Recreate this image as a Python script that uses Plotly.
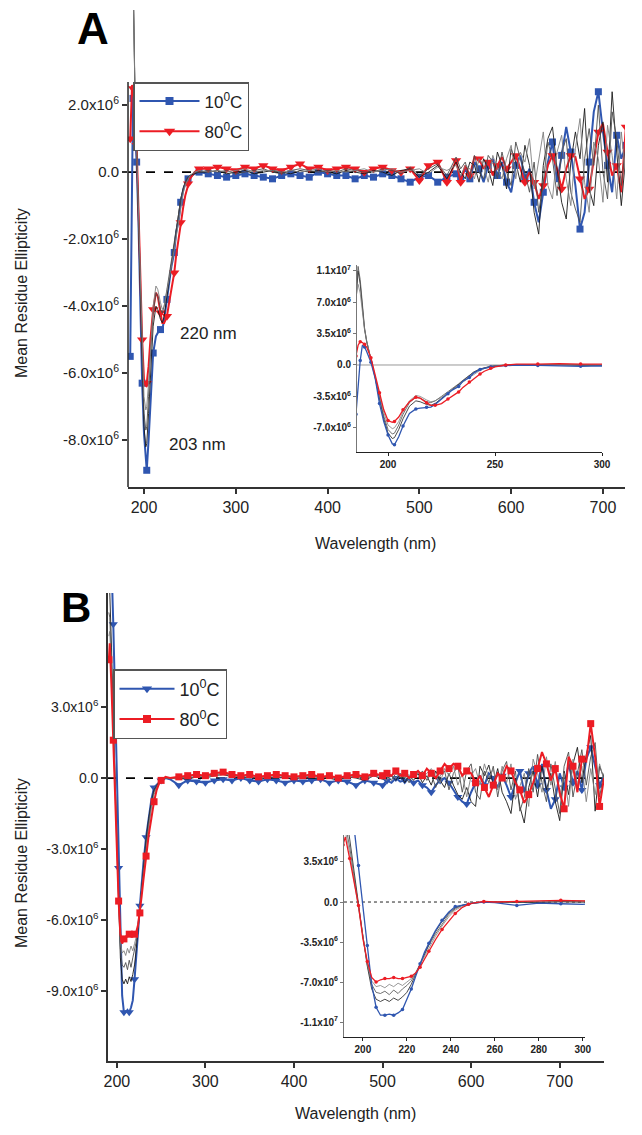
import plotly.graph_objects as go

FONT = "Arial, Liberation Sans, sans-serif"
BLUE = "#2f56b0"
RED = "#ec1c24"
MIDC = ["#1a1a1a", "#4d4d4d", "#808080"]

# ---------------- Panel A data (values in units of 10^6) ----------------
wl_a = [185, 186, 187, 188, 189, 190, 192, 194, 196, 198, 200, 202, 203, 205, 207, 210, 213, 215,
        218, 220, 222, 225, 228, 230, 233, 235, 238, 240, 243, 245, 248, 250, 255, 260] \
    + list(range(270, 541, 10)) + list(range(545, 726, 5))

a_10C = [-5.5, -2.8, 0.5, 2.2, 2.0, 1.5, 0.3, -1.5, -4.3, -6.3, -7.8, -8.8, -8.9, -8.0, -6.8, -5.4, -4.9, -4.8,
         -4.7, -4.7, -4.4, -3.8, -3.2, -2.8, -2.4, -1.8, -1.4, -0.9, -0.5, -0.35, -0.2, -0.15, -0.05, 0.0] \
    + [-0.05, -0.1, -0.15, -0.1, -0.05, -0.1, -0.15, -0.2, -0.1, -0.05, -0.1, -0.15, 0.0, -0.05, -0.1, -0.1,
       -0.2, -0.1, -0.15, -0.05, -0.1, -0.2, -0.3, -0.15, -0.1, -0.3, -0.15, -0.05] \
    + [-0.2, 0.1, -0.2, 0.3, 0.1, -0.3, 0.2, 0.4, -0.1, 0.3, -0.3, -0.6, 0.2, 0.5, -0.2, 0.1, -0.9, -1.5, -0.6,
       0.3, 0.9, -0.3, 0.5, 1.35, 0.6, -0.4, -1.7, -1.2, 0.3, 1.8, 2.4, 1.2, 0.2, -0.6, 1.1, 0.4, 0.8]

a_80C = [1.0, 2.2, 2.6, 2.5, 2.3, 2.0, 0.8, -1.2, -3.1, -5.0, -6.2, -6.4, -6.3, -5.8, -5.0, -4.1, -3.6, -3.7,
         -4.2, -4.5, -4.5, -4.3, -3.8, -3.5, -3.0, -2.5, -1.9, -1.5, -1.0, -0.7, -0.35, -0.2, 0.0, 0.1] \
    + [0.1, 0.15, 0.1, 0.05, 0.15, 0.1, 0.2, 0.1, 0.05, 0.15, 0.25, 0.1, 0.15, 0.05, 0.1, 0.15, 0.1, 0.0,
       0.1, 0.15, 0.05, 0.0, 0.1, -0.25, 0.2, 0.3, -0.3, 0.35] \
    + [-0.3, 0.2, -0.1, 0.45, 0.4, 0.1, 0.3, -0.1, 0.2, 0.45, 0.1, 0.3, 0.5, 0.1, -0.3, 0.0, -0.3, -0.8, -0.4,
       0.2, 0.5, 0.1, -0.5, 0.1, 0.5, 0.45, -0.2, -0.8, -0.5, 0.3, 1.2, 1.45, 0.6, -0.1, 0.2, -0.6, 1.35]

a_mid1 = [7.0, 10.5, 9.0, 6.0, 4.0, 2.6, 0.6, -1.4, -3.8, -6.0, -7.6, -8.2, -8.1, -7.2, -6.0, -4.6, -4.0, -4.1,
          -4.4, -4.5, -4.3, -3.7, -3.1, -2.7, -2.2, -1.8, -1.2, -0.8, -0.45, -0.3, -0.15, -0.1, -0.05, 0.0] \
    + [0.0, 0.05, -0.05, 0.0, 0.05, -0.05, 0.0, 0.05, 0.0, -0.05, 0.05, 0.0, 0.05, 0.0, -0.05, 0.05, 0.0,
       -0.05, 0.05, 0.0, -0.1, 0.05, 0.1, -0.15, 0.0, 0.2, -0.2, 0.3] \
    + [0.0, -0.2, 0.3, 0.2, -0.3, 0.4, 0.1, -0.4, 0.6, 0.2, -0.5, 0.7, 0.3, -0.3, 0.8, 0.2, -1.2, -1.85, 0.2,
       1.0, 1.35, 0.1, -0.9, -1.4, 0.3, 1.2, 0.4, 1.9, -0.5, -1.0, 0.8, 1.5, -0.3, 2.4, 0.6, -1.0, 0.5]

a_mid2 = [8.0, 11.0, 9.5, 6.5, 4.2, 2.7, 0.7, -1.3, -3.6, -5.7, -7.2, -7.7, -7.6, -6.7, -5.5, -4.2, -3.6, -3.7,
          -4.1, -4.2, -4.0, -3.5, -3.0, -2.6, -2.1, -1.7, -1.2, -0.8, -0.45, -0.3, -0.15, -0.1, 0.0, 0.0] \
    + [0.05, 0.0, 0.05, -0.05, 0.0, 0.05, 0.1, 0.0, -0.05, 0.05, 0.1, 0.05, 0.0, 0.05, 0.0, 0.1, 0.05, 0.0,
       0.0, 0.1, 0.05, -0.05, 0.15, -0.1, 0.1, 0.25, -0.1, 0.45] \
    + [0.1, 0.3, -0.2, 0.5, 0.0, -0.2, 0.5, 0.3, -0.2, 0.6, 0.0, -0.4, 0.9, 0.4, 0.0, -0.6, 0.3, -1.2, -0.3,
       0.9, 0.4, -0.7, 0.6, 1.0, -0.6, -1.1, -1.5, 0.4, 1.3, 0.2, 2.0, 0.0, -0.8, 1.8, 1.0, -0.4, 0.9]

a_mid3 = [7.5, 9.0, 8.0, 5.8, 4.0, 2.7, 0.7, -1.3, -3.4, -5.3, -6.7, -7.1, -7.0, -6.3, -5.2, -4.0, -3.4, -3.5,
          -3.9, -4.1, -4.0, -3.6, -3.1, -2.8, -2.3, -1.9, -1.4, -1.0, -0.6, -0.4, -0.2, -0.1, 0.0, 0.05] \
    + [0.0, 0.05, 0.0, 0.05, 0.1, 0.0, 0.05, 0.05, 0.0, 0.05, 0.0, 0.05, 0.1, 0.0, 0.05, 0.0, 0.05, 0.1,
       0.0, 0.05, 0.1, 0.0, 0.05, 0.1, -0.05, 0.15, 0.05, 0.2] \
    + [-0.1, 0.2, 0.1, -0.2, 0.4, 0.2, -0.3, 0.5, 0.1, -0.2, 0.4, 0.8, -0.2, 0.6, 0.3, 1.0, -0.5, 0.4, 1.2,
       -0.4, -0.8, 0.6, 1.1, -0.2, -1.0, 0.7, 1.6, -0.3, -1.2, 0.9, 0.4, -0.9, 1.4, 0.5, -0.8, 1.2, -0.2]

# ---------------- Panel B data (values in units of 10^6) ----------------
wl_b = [191, 192, 194, 196, 198, 200, 202, 204, 206, 208, 210, 212, 214, 216, 218, 220, 222, 224,
        226, 228, 230, 233, 236, 239, 242, 245, 248, 250, 255, 260] \
    + list(range(270, 501, 10)) + list(range(505, 751, 5))

b_10C = [11.0, 10.5, 9.0, 6.5, 3.2, 0.0, -3.8, -7.2, -9.2, -9.9, -9.9, -9.8, -9.9, -9.7, -9.4, -8.5, -7.6, -6.5,
         -5.4, -4.4, -3.6, -2.5, -1.6, -0.9, -0.4, -0.3, -0.2, -0.1, 0.0, -0.05] \
    + [-0.3, -0.1, -0.15, -0.2, -0.1, -0.05, -0.1, 0.0, -0.1, -0.15, -0.05, -0.1, -0.2, -0.1, -0.15, -0.1,
       -0.05, -0.2, -0.1, -0.15, -0.3, -0.1, -0.2, -0.3] \
    + [-0.1, -0.2, 0.0, -0.15, -0.1, -0.05, -0.2, -0.1, -0.3, -0.4, -0.6, -0.3, -0.1, 0.0, -0.2, -0.5, -0.8,
       -1.0, -1.1, -0.6, -0.2, 0.1, -0.3, 0.2, 0.0, -0.4, 0.1, -0.3, -0.8, -0.2, 0.3, -0.6, 0.2, 0.5, -0.3,
       0.6, -0.5, -1.3, -0.9, 0.2, -0.4, 0.6, -0.2, 0.3, -0.5, 0.8, 1.3, 0.5, -0.3, 0.1]

b_80C = [5.0, 5.7, 3.8, 1.6, -0.3, -3.2, -5.2, -6.6, -7.0, -6.8, -6.7, -6.7, -6.6, -6.7, -6.7, -6.6, -6.5, -6.2,
         -5.7, -5.0, -4.3, -3.3, -2.4, -1.7, -1.0, -0.5, -0.2, -0.1, 0.05, 0.0] \
    + [0.05, 0.1, 0.15, 0.1, 0.2, 0.25, 0.15, 0.1, 0.15, 0.05, 0.1, 0.15, 0.1, 0.05, 0.1, 0.15, 0.05, 0.1,
       0.0, 0.1, 0.15, 0.05, 0.2, 0.1] \
    + [0.2, 0.1, 0.3, 0.1, 0.2, 0.0, 0.15, 0.3, 0.1, 0.4, 0.2, 0.0, 0.3, 0.6, 0.4, 0.6, 0.5, 0.1, 0.3, 0.2,
       -0.2, 0.1, -0.4, -0.8, -0.3, 0.2, 0.0, 0.5, 0.3, -0.2, -0.5, -1.05, -0.7, -0.2, 0.4, 1.1, 0.6, -0.1,
       0.4, -0.6, -1.3, 0.9, 0.5, -0.6, 0.8, 0.7, 2.3, 0.9, -1.2, 0.0]

b_mid1 = [9.0, 8.0, 5.5, 2.5, -0.2, -3.0, -5.6, -7.6, -8.5, -8.7, -8.5, -8.7, -8.4, -8.6, -8.3, -7.9, -7.2, -6.3,
          -5.4, -4.5, -3.7, -2.6, -1.7, -1.0, -0.5, -0.3, -0.15, -0.1, 0.0, 0.0] \
    + [0.0, -0.05, 0.05, 0.0, 0.1, 0.15, 0.05, 0.0, 0.05, -0.05, 0.0, 0.05, 0.0, -0.05, 0.05, 0.0, -0.05,
       0.0, -0.1, 0.05, 0.0, -0.1, 0.1, -0.05] \
    + [0.0, 0.1, -0.1, 0.2, -0.2, 0.1, -0.1, 0.2, -0.2, 0.1, -0.3, 0.3, -0.1, -0.4, 0.2, -0.3, -0.7, -0.9,
       -0.4, -1.0, -1.2, 0.5, 0.1, 0.55, -0.3, 0.4, -0.6, -1.0, -1.5, 0.0, -1.2, -1.9, -0.4, 0.3, -0.8, 0.5,
       -0.5, 0.2, -1.0, -1.8, 0.3, -0.7, 0.6, 1.3, -0.2, 1.0, 1.8, -1.4, 0.5, 0.0]

b_mid2 = [7.0, 6.8, 4.8, 2.2, -0.3, -3.1, -5.5, -7.2, -7.9, -8.0, -7.8, -8.1, -7.7, -8.0, -7.6, -7.3, -6.9, -6.2,
          -5.4, -4.6, -3.8, -2.8, -1.9, -1.1, -0.6, -0.3, -0.15, -0.1, 0.0, 0.0] \
    + [-0.05, 0.0, 0.05, 0.05, 0.15, 0.2, 0.1, 0.05, 0.0, 0.05, 0.05, 0.0, 0.05, 0.0, 0.0, 0.1, 0.0, 0.05,
       -0.05, 0.0, 0.1, 0.0, 0.15, 0.05] \
    + [0.1, -0.1, 0.2, 0.0, 0.1, -0.2, 0.2, 0.0, 0.3, -0.1, 0.2, -0.4, 0.1, 0.3, -0.5, 0.2, 0.5, -0.6, 0.3,
       0.6, -0.6, -0.9, 0.3, -0.2, 0.5, -0.8, 0.3, 0.7, -0.5, 0.3, -1.4, -0.8, 0.4, -0.6, 1.0, -0.2, -1.0,
       0.6, -0.4, -1.5, 0.5, 1.1, -0.8, 0.2, 1.2, -0.3, 0.9, 1.5, -0.8, 0.2]

b_mid3 = [6.0, 6.2, 4.3, 1.9, -0.4, -3.2, -5.4, -6.9, -7.4, -7.3, -7.5, -7.2, -7.4, -7.1, -7.3, -7.0, -6.7, -6.2,
          -5.5, -4.8, -4.0, -3.0, -2.1, -1.3, -0.7, -0.4, -0.2, -0.1, 0.0, 0.0] \
    + [0.0, 0.05, 0.1, 0.05, 0.1, 0.2, 0.1, 0.05, 0.1, 0.0, 0.05, 0.1, 0.05, 0.0, 0.05, 0.05, 0.0, 0.1,
       0.0, 0.05, 0.05, -0.05, 0.1, 0.0] \
    + [-0.1, 0.1, 0.0, 0.2, 0.0, 0.15, -0.1, 0.3, 0.0, 0.2, 0.4, 0.1, -0.2, 0.4, 0.1, 0.5, -0.3, 0.2, -0.8,
       0.1, 0.4, -0.3, 0.6, 0.0, 0.4, -0.5, 0.5, -0.2, 0.6, -0.9, -0.3, 0.2, -1.2, 0.8, 0.2, -0.6, 0.9, -0.3,
       0.7, -0.8, 0.2, -1.2, 0.8, -0.3, 0.5, -1.0, 0.4, -0.7, 0.6, -0.1]

legend_names = ["10<sup>0</sup>C", "80<sup>0</sup>C"]

# tick labels
a_main_yvals = [-8, -6, -4, -2, 0, 2]
a_main_ytext = ["-8.0x10<sup>6</sup>", "-6.0x10<sup>6</sup>", "-4.0x10<sup>6</sup>",
                "-2.0x10<sup>6</sup>", "0.0", "2.0x10<sup>6</sup>"]
a_ins_yvals = [-7, -3.5, 0, 3.5, 7, 10.5]
a_ins_ytext = ["-7.0x10<sup>6</sup>", "-3.5x10<sup>6</sup>", "0.0", "3.5x10<sup>6</sup>",
               "7.0x10<sup>6</sup>", "1.1x10<sup>7</sup>"]
b_main_yvals = [-9, -6, -3, 0, 3]
b_main_ytext = ["-9.0x10<sup>6</sup>", "-6.0x10<sup>6</sup>", "-3.0x10<sup>6</sup>", "0.0",
                "3.0x10<sup>6</sup>"]
b_ins_yvals = [-10.5, -7, -3.5, 0, 3.5]
b_ins_ytext = ["-1.1x10<sup>7</sup>", "-7.0x10<sup>6</sup>", "-3.5x10<sup>6</sup>", "0.0",
               "3.5x10<sup>6</sup>"]


def pick(seq, idx):
    return [seq[i] for i in idx]


idx_a = list(range(0, 34, 3)) + list(range(34, 62)) + list(range(62, len(wl_a), 2))
idx_b = list(range(0, 30, 3)) + list(range(30, 54)) + list(range(54, len(wl_b), 2))
idx_ai = list(range(0, len(wl_a), 2))
idx_bi = list(range(0, len(wl_b), 2))

fig = go.Figure()


def line(x, y, color, width, xa, ya):
    fig.add_trace(go.Scatter(x=x, y=y, mode="lines", line=dict(color=color, width=width),
                             xaxis=xa, yaxis=ya, showlegend=False, hoverinfo="skip"))


def marks(x, y, color, symbol, size, xa, ya):
    fig.add_trace(go.Scatter(x=x, y=y, mode="markers",
                             marker=dict(color=color, symbol=symbol, size=size, line=dict(width=0)),
                             xaxis=xa, yaxis=ya, showlegend=False, hoverinfo="skip"))


def legend_item(name, color, symbol, size, leg, grp):
    fig.add_trace(go.Scatter(x=[None], y=[None], mode="lines+markers", name=name,
                             line=dict(color=color, width=2),
                             marker=dict(color=color, symbol=symbol, size=size),
                             xaxis="x", yaxis="y", legend=leg, legendgroup=grp, showlegend=True))


# ---- Panel A main ----
line(wl_a, a_10C, BLUE, 2, "x", "y")
marks(pick(wl_a, idx_a), pick(a_10C, idx_a), BLUE, "square", 7, "x", "y")
line(wl_a, a_80C, RED, 2, "x", "y")
marks(pick(wl_a, idx_a), pick(a_80C, idx_a), RED, "triangle-down", 9, "x", "y")
for s, c in zip([a_mid1, a_mid2, a_mid3], MIDC):
    line(wl_a, s, c, 0.9, "x", "y")

# ---- Panel A inset ----
for s, c in zip([a_mid1, a_mid2, a_mid3], MIDC):
    line(wl_a, s, c, 0.8, "x2", "y2")
line(wl_a, a_10C, BLUE, 1.3, "x2", "y2")
marks(pick(wl_a, idx_ai), pick(a_10C, idx_ai), BLUE, "circle", 3.5, "x2", "y2")
line(wl_a, a_80C, RED, 1.3, "x2", "y2")
marks(pick(wl_a, idx_ai), pick(a_80C, idx_ai), RED, "circle", 3.5, "x2", "y2")

# ---- Panel B main ----
line(wl_b, b_10C, BLUE, 2, "x3", "y3")
marks(pick(wl_b, idx_b), pick(b_10C, idx_b), BLUE, "triangle-down", 8, "x3", "y3")
for s, c in zip([b_mid1, b_mid2, b_mid3], MIDC):
    line(wl_b, s, c, 0.9, "x3", "y3")
line(wl_b, b_80C, RED, 2, "x3", "y3")
marks(pick(wl_b, idx_b), pick(b_80C, idx_b), RED, "square", 7, "x3", "y3")

# ---- Panel B inset ----
for s, c in zip([b_mid1, b_mid2, b_mid3], MIDC):
    line(wl_b, s, c, 0.8, "x4", "y4")
line(wl_b, b_10C, BLUE, 1.3, "x4", "y4")
marks(pick(wl_b, idx_bi), pick(b_10C, idx_bi), BLUE, "circle", 3.5, "x4", "y4")
line(wl_b, b_80C, RED, 1.3, "x4", "y4")
marks(pick(wl_b, idx_bi), pick(b_80C, idx_bi), RED, "circle", 3.5, "x4", "y4")

# legends
legend_item(legend_names[0], BLUE, "square", 8, "legend", "a1")
legend_item(legend_names[1], RED, "triangle-down", 10, "legend", "a2")
legend_item(legend_names[0], BLUE, "triangle-down", 9, "legend2", "b1")
legend_item(legend_names[1], RED, "square", 8, "legend2", "b2")

AX = "#333333"
tickf = dict(family=FONT, size=15, color="#222")
insf = dict(family=FONT, size=10, color="#222", weight="bold")
common = dict(showgrid=False, zeroline=False, automargin=False)

fig.update_layout(
    width=642, height=1135, autosize=False,
    margin=dict(l=0, r=0, t=0, b=0, autoexpand=False),
    paper_bgcolor="white", plot_bgcolor="rgba(0,0,0,0)",
    font=dict(family=FONT, color="#222"),
    xaxis=dict(domain=[0.1994, 0.9735], range=[182.6, 724], anchor="y",
               showline=True, linecolor=AX, linewidth=1.6,
               ticks="outside", ticklen=5, tickwidth=1.5, tickcolor=AX,
               tickvals=[200, 300, 400, 500, 600, 700], tickfont=dict(family=FONT, size=16, color="#222"),
               **common),
    yaxis=dict(domain=[0.5709, 0.9912], range=[-9.40, 4.84], anchor="x",
               showline=False, ticks="outside", ticklen=5, tickwidth=1.5, tickcolor=AX,
               tickvals=a_main_yvals, ticktext=a_main_ytext, tickfont=tickf, **common),
    xaxis2=dict(domain=[0.5561, 0.9377], range=[185.5, 300], anchor="y2",
                showline=True, linecolor="#222", linewidth=1.2,
                ticks="outside", ticklen=3, tickwidth=1, tickcolor="#222",
                tickvals=[200, 250, 300], tickfont=insf, **common),
    yaxis2=dict(domain=[0.6018, 0.7665], range=[-9.7, 11.15], anchor="x2",
                showline=True, linecolor="#777", linewidth=1,
                ticks="outside", ticklen=3, tickwidth=1, tickcolor="#777",
                tickvals=a_ins_yvals, ticktext=a_ins_ytext, tickfont=insf, **common),
    xaxis3=dict(domain=[0.1682, 0.9408], range=[190, 750], anchor="y3",
                showline=True, linecolor=AX, linewidth=1.6,
                ticks="outside", ticklen=5, tickwidth=1.5, tickcolor=AX,
                tickvals=[200, 300, 400, 500, 600, 700], tickfont=dict(family=FONT, size=16, color="#222"),
                **common),
    yaxis3=dict(domain=[0.0652, 0.4775], range=[-11.96, 7.82], anchor="x3",
                showline=True, linecolor=AX, linewidth=1.6,
                ticks="outside", ticklen=5, tickwidth=1.5, tickcolor=AX,
                tickvals=b_main_yvals, ticktext=b_main_ytext,
                tickfont=dict(family=FONT, size=14, color="#222"), **common),
    xaxis4=dict(domain=[0.5358, 0.9112], range=[191.4, 301], anchor="y4",
                showline=True, linecolor="#222", linewidth=1.2,
                ticks="outside", ticklen=3, tickwidth=1, tickcolor="#222",
                tickvals=[200, 220, 240, 260, 280, 300], tickfont=insf, **common),
    yaxis4=dict(domain=[0.0863, 0.2643], range=[-11.81, 5.86], anchor="x4",
                showline=True, linecolor="#777", linewidth=1,
                ticks="outside", ticklen=3, tickwidth=1, tickcolor="#777",
                tickvals=b_ins_yvals, ticktext=b_ins_ytext, tickfont=insf, **common),
    legend=dict(x=133 / 642, y=1 - 82 / 1135, xanchor="left", yanchor="top", bgcolor="white",
                bordercolor="#555", borderwidth=1.5, font=dict(family=FONT, size=17, color="#222"),
                itemwidth=60, tracegroupgap=5),
    legend2=dict(x=113 / 642, y=1 - 669 / 1135, xanchor="left", yanchor="top", bgcolor="white",
                 bordercolor="#555", borderwidth=1.5, font=dict(family=FONT, size=18, color="#222"),
                 itemwidth=55, tracegroupgap=4),
    shapes=[
        dict(type="line", xref="x domain", yref="y", x0=0, x1=0, y0=-9.40, y1=2.69,
             line=dict(color=AX, width=1.6), layer="above"),
        dict(type="line", xref="x domain", yref="y", x0=0, x1=1, y0=0, y1=0,
             line=dict(color="black", width=1.8, dash="dash"), layer="below"),
        dict(type="line", xref="x2 domain", yref="y2", x0=0, x1=1, y0=0, y1=0,
             line=dict(color="#999", width=1), layer="below"),
        dict(type="line", xref="x3 domain", yref="y3", x0=0, x1=1, y0=0, y1=0,
             line=dict(color="black", width=1.8, dash="dash"), layer="below"),
        dict(type="line", xref="x4 domain", yref="y4", x0=0, x1=1, y0=0, y1=0,
             line=dict(color="#222", width=1, dash="dot"), layer="below"),
    ],
)

ann = [
    ("<b>A</b>", 93, 28, 44, 0),
    ("<b>B</b>", 76, 607, 42, 0),
    ("Mean Residue Ellipticity", 21, 293, 16, -90),
    ("Wavelength (nm)", 376, 543, 16, 0),
    ("Mean Residue Ellipticity", 21, 863, 16, -90),
    ("Wavelength (nm)", 356, 1113, 16, 0),
    ("220 nm", 208, 333, 17, 0),
    ("203 nm", 197, 445, 17, 0),
]
for text, px, py, size, ang in ann:
    fig.add_annotation(text=text, x=px / 642, y=1 - py / 1135, xref="paper", yref="paper",
                       xanchor="center", yanchor="middle", textangle=ang, showarrow=False,
                       font=dict(family=FONT, size=size, color="black" if size > 30 else "#222"))

fig.write_html("out.html", config={"displayModeBar": False},
               post_script="document.body.style.margin='0px';document.body.style.overflow='hidden';")
